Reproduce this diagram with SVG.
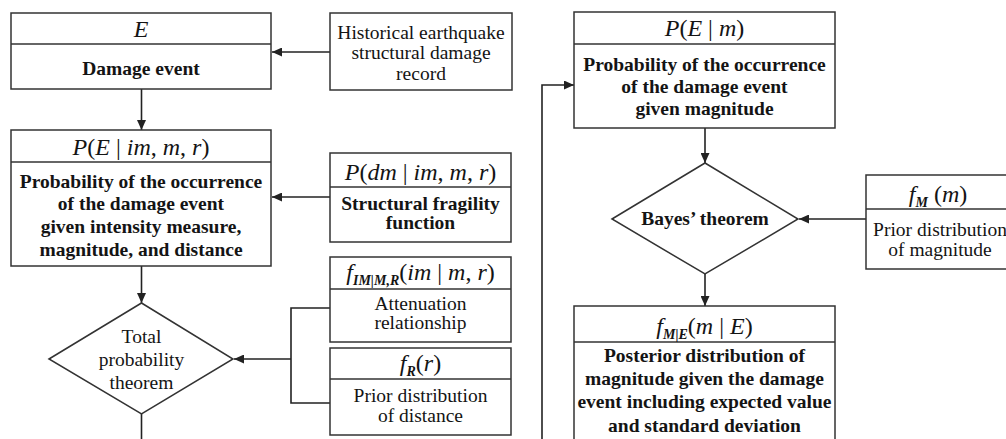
<svg xmlns="http://www.w3.org/2000/svg" width="1006" height="439" viewBox="0 0 1006 439">
  <style>
    .box { fill: #fff; stroke: #333; stroke-width: 1.5; }
    .sep { stroke: #333; stroke-width: 1.5; }
    .dia { fill: #fff; stroke: #333; stroke-width: 1.5; }
    .t { font-family: "Liberation Serif", "Times New Roman", serif; fill: #141414; text-anchor: middle; }
    .b { font-size: 19.5px; font-weight: bold; }
    .r { font-size: 19.5px; }
    .m { font-size: 24px; font-style: italic; }
    .u { font-style: normal; }
    .sub { font-size: 14px; font-weight: bold; }
    .conn { stroke: #222; stroke-width: 1.6; fill: none; }
    .arr { marker-end: url(#head); }
  </style>
  <defs>
    <marker id="head" markerUnits="userSpaceOnUse" markerWidth="11" markerHeight="9" refX="10" refY="4.5" orient="auto">
      <path d="M0,0 L10,4.5 L0,9 z" fill="#222"/>
    </marker>
  </defs>
  <rect width="1006" height="439" fill="#fff"/>

  <!-- connectors -->
  <g id="connectors">
    <line class="conn arr" x1="330" y1="52" x2="272" y2="52"/>
    <line class="conn arr" x1="141.5" y1="89" x2="141.5" y2="130"/>
    <line class="conn arr" x1="330" y1="197" x2="272" y2="197"/>
    <line class="conn arr" x1="141.5" y1="266" x2="141.5" y2="303"/>
    <polyline class="conn" points="330,308 291,308 291,403 330,403"/>
    <line class="conn arr" x1="291" y1="359" x2="234" y2="359"/>
    <line class="conn" x1="141.5" y1="414" x2="141.5" y2="440"/>
    <polyline class="conn arr" points="542,440 542,85 574,85"/>
    <line class="conn arr" x1="705" y1="128" x2="705" y2="163"/>
    <line class="conn arr" x1="866" y1="219" x2="799" y2="219"/>
    <line class="conn arr" x1="705" y1="274" x2="705" y2="306"/>
  </g>

  <!-- damage event -->
  <g id="node-E">
    <rect class="box" x="11" y="13" width="260" height="76"/>
    <line class="sep" x1="11" y1="44" x2="271" y2="44"/>
    <text class="t m" x="141" y="37">E</text>
    <text class="t b" x="141" y="75">Damage event</text>
  </g>

  <g id="node-history">
    <rect class="box" x="330" y="13" width="182" height="77"/>
    <text class="t r" x="421" y="39">Historical earthquake</text>
    <text class="t r" x="421" y="59">structural damage</text>
    <text class="t r" x="421" y="80">record</text>
  </g>

  <g id="node-PE-imr">
    <rect class="box" x="11" y="130" width="260" height="136"/>
    <line class="sep" x1="11" y1="162" x2="271" y2="162"/>
    <text class="t m" x="141" y="155">P<tspan class="u">(</tspan>E<tspan class="u"> | </tspan>im<tspan class="u">, </tspan>m<tspan class="u">, </tspan>r<tspan class="u">)</tspan></text>
    <text class="t b" x="141" y="188">Probability of the occurrence</text>
    <text class="t b" x="141" y="210">of the damage event</text>
    <text class="t b" x="141" y="233">given intensity measure,</text>
    <text class="t b" x="141" y="256">magnitude, and distance</text>
  </g>

  <g id="node-fragility">
    <rect class="box" x="330" y="153" width="181" height="89"/>
    <line class="sep" x1="330" y1="187" x2="511" y2="187"/>
    <text class="t m" x="420.5" y="180">P<tspan class="u">(</tspan>dm<tspan class="u"> | </tspan>im<tspan class="u">, </tspan>m<tspan class="u">, </tspan>r<tspan class="u">)</tspan></text>
    <text class="t b" x="420.5" y="210">Structural fragility</text>
    <text class="t b" x="420.5" y="229">function</text>
  </g>

  <g id="node-attenuation">
    <rect class="box" x="330" y="257" width="181" height="85"/>
    <line class="sep" x1="330" y1="289" x2="511" y2="289"/>
    <text class="t m" x="420.5" y="280">f<tspan class="sub" dy="5">IM|M,R</tspan><tspan dy="-5" class="u">(</tspan>im<tspan class="u"> | </tspan>m<tspan class="u">, </tspan>r<tspan class="u">)</tspan></text>
    <text class="t r" x="420.5" y="310">Attenuation</text>
    <text class="t r" x="420.5" y="329">relationship</text>
  </g>

  <g id="node-distance">
    <rect class="box" x="330" y="348" width="181" height="87"/>
    <line class="sep" x1="330" y1="379" x2="511" y2="379"/>
    <text class="t m" x="420.5" y="371">f<tspan class="sub" dy="5">R</tspan><tspan dy="-5" class="u">(</tspan>r<tspan class="u">)</tspan></text>
    <text class="t r" x="420.5" y="402">Prior distribution</text>
    <text class="t r" x="420.5" y="422">of distance</text>
  </g>

  <g id="node-total-probability">
    <polygon class="dia" points="49,359 141.5,303 233,359 141.5,414"/>
    <text class="t r" x="141.5" y="343">Total</text>
    <text class="t r" x="141.5" y="366">probability</text>
    <text class="t r" x="141.5" y="389">theorem</text>
  </g>

  <g id="node-PE-m">
    <rect class="box" x="574" y="12" width="261" height="116"/>
    <line class="sep" x1="574" y1="44" x2="835" y2="44"/>
    <text class="t m" x="704.5" y="36">P<tspan class="u">(</tspan>E<tspan class="u"> | </tspan>m<tspan class="u">)</tspan></text>
    <text class="t b" x="704.5" y="71">Probability of the occurrence</text>
    <text class="t b" x="704.5" y="93">of the damage event</text>
    <text class="t b" x="704.5" y="115">given magnitude</text>
  </g>

  <g id="node-bayes">
    <polygon class="dia" points="612,219 705,163 798,219 705,274"/>
    <text class="t b" x="705" y="225">Bayes’ theorem</text>
  </g>

  <g id="node-prior-magnitude">
    <rect class="box" x="866" y="175" width="150" height="94"/>
    <line class="sep" x1="866" y1="209" x2="1016" y2="209"/>
    <text class="t m" x="938" y="202">f<tspan class="sub" dy="5">M</tspan><tspan dy="-5" class="u"> (</tspan>m<tspan class="u">)</tspan></text>
    <text class="t r" x="940" y="236">Prior distribution</text>
    <text class="t r" x="940" y="256">of magnitude</text>
  </g>

  <g id="node-posterior">
    <rect class="box" x="574" y="306" width="261" height="150"/>
    <line class="sep" x1="574" y1="342" x2="835" y2="342"/>
    <text class="t m" x="704.5" y="334">f<tspan class="sub" dy="5">M|E</tspan><tspan dy="-5" class="u">(</tspan>m<tspan class="u"> | </tspan>E<tspan class="u">)</tspan></text>
    <text class="t b" x="704.5" y="362">Posterior distribution of</text>
    <text class="t b" x="704.5" y="385">magnitude given the damage</text>
    <text class="t b" x="704.5" y="408">event including expected value</text>
    <text class="t b" x="704.5" y="432">and standard deviation</text>
  </g>
</svg>
